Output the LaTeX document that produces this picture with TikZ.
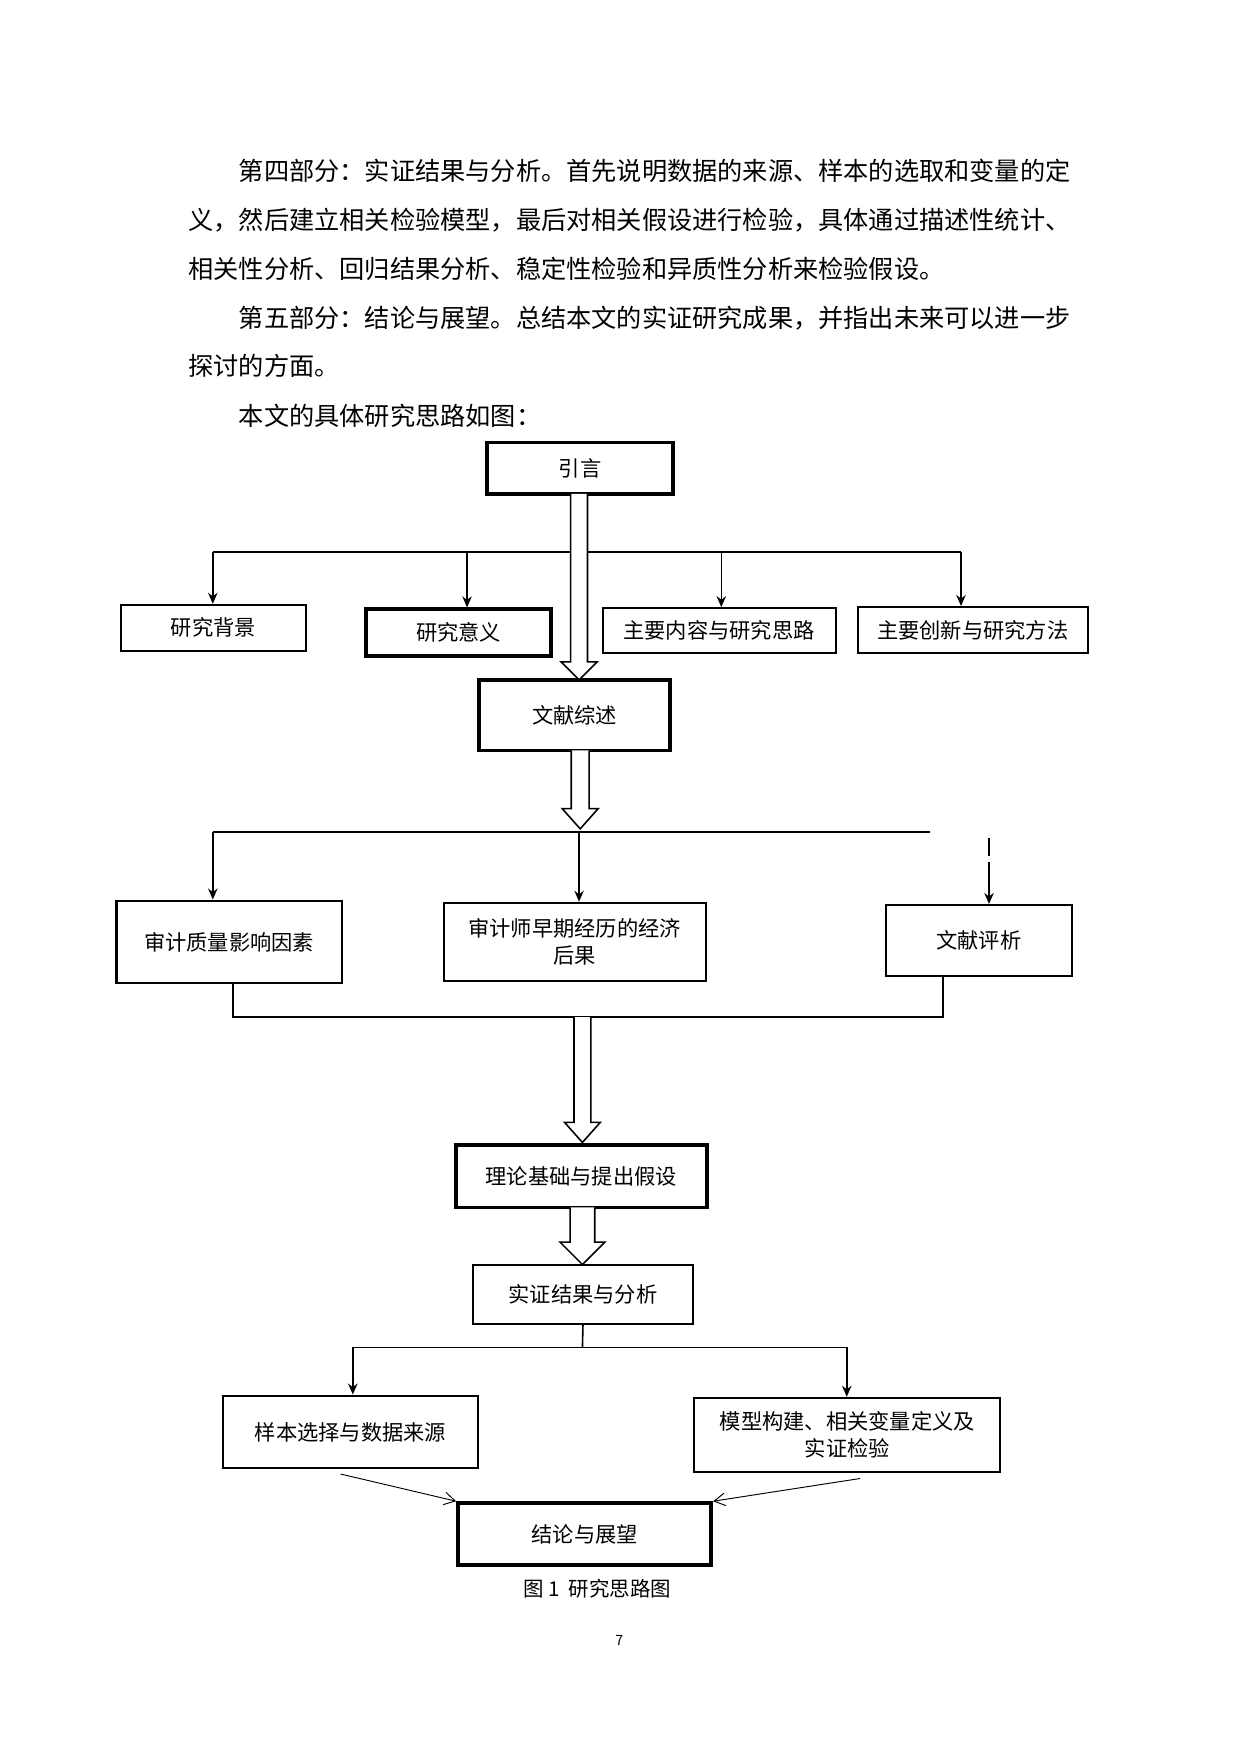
\documentclass[tikz,border=0pt]{standalone}
\usepackage{fontspec}
\setmainfont{Noto Sans CJK SC}
\usetikzlibrary{arrows.meta}
\tikzset{
  box/.style={draw,line width=1.3pt,inner sep=0pt,align=center,font=\fontsize{13.5}{17}\selectfont},
  tbox/.style={line width=2.4pt},
  ln/.style={line width=1pt},
  arr/.style={line width=1pt,-{Stealth[length=7pt,width=6pt]}},
  thin/.style={line width=0.6pt,-{Straight Barb[length=7pt,width=8pt]}},
  para/.style={anchor=west,inner sep=0pt,font=\fontsize{16}{20}\selectfont},
}
\newcommand\bx[7][]{\node[box,#1,minimum width={(#4-#2)*0.025cm},minimum height={(#5-#3)*0.025cm}] (#6) at ({(#2+#4)/2},{(#3+#5)/2}) {#7};}
\newcommand\harrow[6]{\draw[line width=1pt,fill=white] ({#1-#4/2},#2) -- ({#1-#4/2},{#3-#6}) -- ({#1-#5/2},{#3-#6}) -- (#1,#3) -- ({#1+#5/2},{#3-#6}) -- ({#1+#4/2},{#3-#6}) -- ({#1+#4/2},#2);}
\begin{document}
\begin{tikzpicture}[x=0.025cm,y=-0.025cm]
\useasboundingbox[fill=white] (0,0) rectangle (1107,1566);
\node[para] (p1) at (213,153) {第四部分：实证结果与分析。首先说明数据的来源、样本的选取和变量的定};
\node[para] (p2) at (168,197) {义，然后建立相关检验模型，最后对相关假设进行检验，具体通过描述性统计、};
\node[para] (p3) at (168,240) {相关性分析、回归结果分析、稳定性检验和异质性分析来检验假设。};
\node[para] (p4) at (213,284) {第五部分：结论与展望。总结本文的实证研究成果，并指出未来可以进一步};
\node[para] (p5) at (168,327) {探讨的方面。};
\node[para] (p6) at (213,371) {本文的具体研究思路如图：};

\bx[tbox]{435}{395}{601}{441}{yy}{引言}
\bx{108}{540}{273}{581}{bj}{研究背景}
\bx[tbox]{327}{544}{492}{586}{yi}{研究意义}
\bx{538}{543}{746}{583}{nr}{主要内容与研究思路}
\bx{766}{542}{971}{583}{cx}{主要创新与研究方法}
\bx[tbox]{428}{607}{598}{670}{ws}{文献综述}
\bx{104}{804}{305}{878}{zl}{审计质量影响因素}
\bx{396}{806}{630}{876}{jl}{审计师早期经历的经济\\后果}
\bx{791}{808}{957}{871}{px}{文献评析}
\bx[tbox]{407}{1022}{631}{1078}{ll}{理论基础与提出假设}
\bx{422}{1129}{619}{1182}{sz}{实证结果与分析}
\bx{199}{1246}{427}{1311}{yb}{样本选择与数据来源}
\bx{620}{1248}{893}{1314}{mx}{模型构建、相关变量定义及\\实证检验}
\bx[tbox]{409}{1342}{635}{1397}{jg}{结论与展望}

% level 1
\draw[ln] (190,493) -- (858,493);
\draw[arr] (190,493) -- (bj.north -| 190,0);
\draw[arr] (417,493) -- (yi.north -| 417,0);
\draw[arr] (644,493) -- (nr.north -| 644,0);
\draw[arr] (858,493) -- (cx.north -| 858,0);
\harrow{517}{441}{607}{15}{32}{16}
% level 2
\draw[ln] (190,743) -- (830,743);
\draw[arr] (190,743) -- (zl.north -| 190,0);
\draw[arr] (517,743) -- (jl.north -| 517,0);
\draw[arr] (883,770) -- (px.north -| 883,0);
\draw[ln] (883,748) -- (883,764);
\harrow{518}{670}{740}{16}{32}{18}
% merge
\draw[ln] (zl.south -| 208,0) -- (208,908) -- (842,908) -- (px.south -| 842,0);
\harrow{520}{908}{1020}{15}{32}{18}
\harrow{520}{1078}{1129}{22}{40}{20}
% level 3
\draw[ln] (sz.south) -- (520,1203);
\draw[ln] (315,1203) -- (756,1203);
\draw[arr] (315,1203) -- (yb.north -| 315,0);
\draw[arr] (756,1203) -- (mx.north -| 756,0);
\coordinate (a1) at (304,1316);
\coordinate (a2) at (768,1320);
\draw[thin] (a1) -- (jg.north west);
\draw[thin] (a2) -- (jg.north east);

\node[font=\fontsize{13}{16}\selectfont] (cap) at (533,1418) {图 1\ \ 研究思路图};
\node[font=\fontsize{9}{11}\selectfont] (pg) at (553,1465) {7};
\end{tikzpicture}
\end{document}
